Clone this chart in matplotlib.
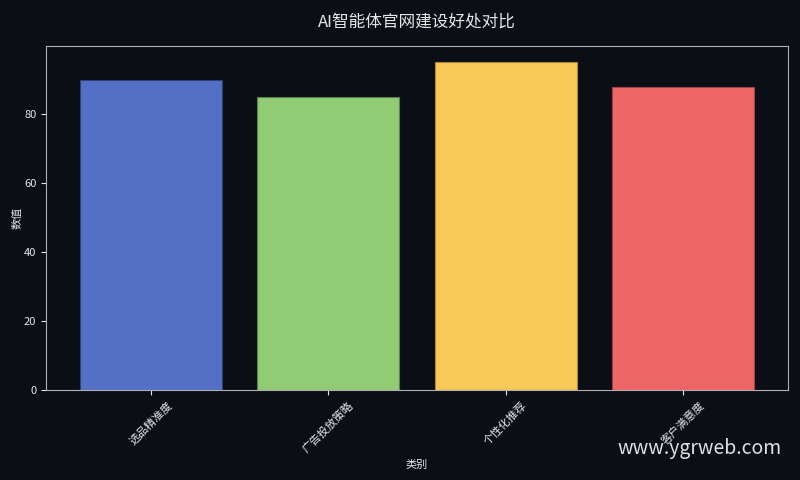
import matplotlib
matplotlib.use('Agg')
import matplotlib.pyplot as plt

plt.rcParams['font.family'] = ['Noto Sans CJK SC', 'DejaVu Sans']

categories = ['选品精准度', '广告投放策略', '个性化推荐', '客户满意度']
values = [90, 85, 95, 88]
colors = ['#5470c6', '#91cc75', '#fac858', '#ee6666']
edge_colors = ['#2f3f7a', '#5a7f4a', '#a8863a', '#9a4444']

bg = '#0c0e15'
fg = '#e6e6e6'

fig, ax = plt.subplots(figsize=(8, 4.8), dpi=100)
fig.patch.set_facecolor(bg)
ax.set_facecolor(bg)

ax.bar(categories, values, color=colors, edgecolor=edge_colors, linewidth=0.8)

ax.set_title('AI智能体官网建设好处对比', color=fg, fontsize=12, pad=14)
ax.set_xlabel('类别', color=fg, fontsize=8)
ax.set_ylabel('数值', color=fg, fontsize=8, labelpad=1)
ax.tick_params(colors=fg, labelsize=8)
plt.setp(ax.get_xticklabels(), rotation=45)
for s in ax.spines.values():
    s.set_color('#b0b0b0')

fig.text(0.977, 0.065, 'www.ygrweb.com', color='#e0e0e0', fontsize=14,
         ha='right', va='center')

fig.subplots_adjust(left=0.0575, right=0.985, top=0.904, bottom=0.1875)
fig.savefig('out.png', facecolor=bg)
